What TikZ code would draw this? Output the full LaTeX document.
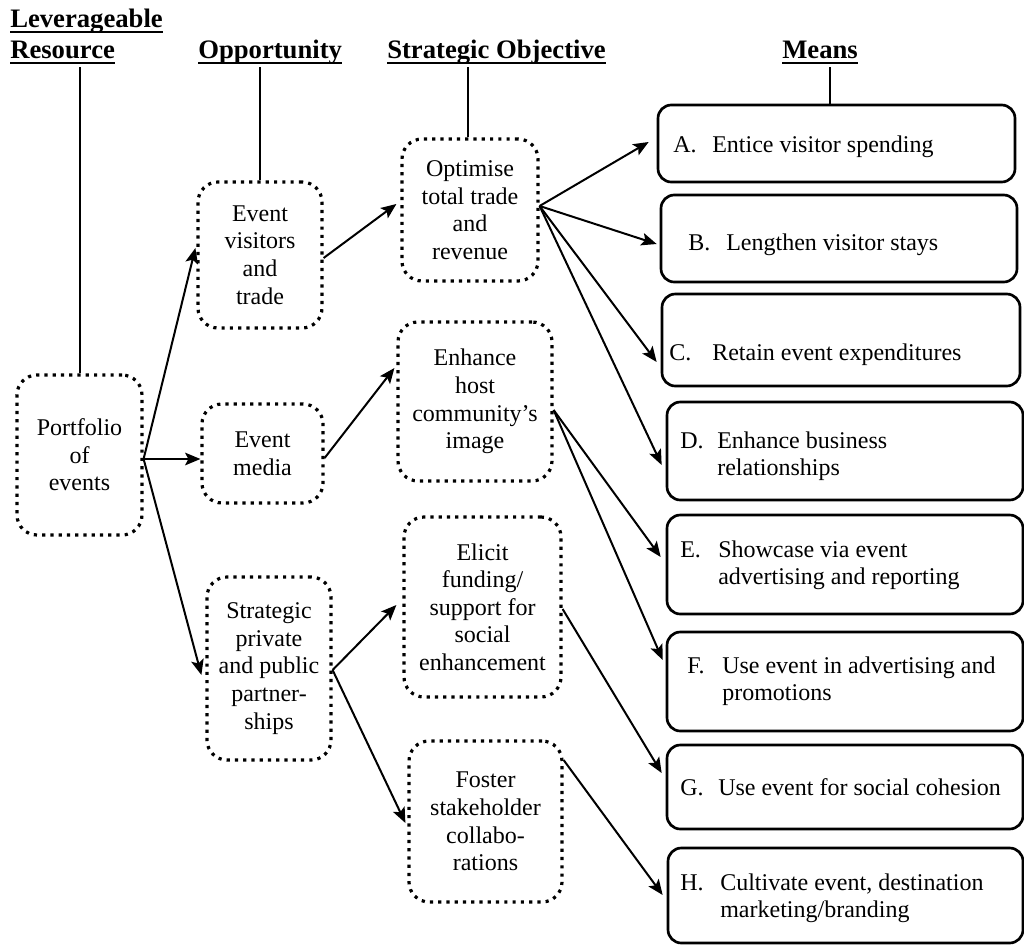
\documentclass[tikz,border=0pt]{standalone}
\usepackage{fontspec}
\setmainfont{Liberation Serif}
\usetikzlibrary{arrows.meta,calc}
\newcommand\hdrul[1]{\leavevmode\setbox0\hbox{#1}\rlap{\rule[-4.5pt]{\wd0}{1.5pt}}\box0}
\begin{document}
\begin{tikzpicture}[x=0.75pt,y=-0.75pt,
  bodyfont/.style={font=\fontsize{18}{20.7}\selectfont},
  dotbox/.style={draw, line width=2.4pt, dash pattern=on 2.4pt off 3.8pt,
    rounded corners=15pt, align=center, inner sep=0pt, bodyfont},
  sz/.style 2 args={minimum width=#1*0.75pt, minimum height=#2*0.75pt},
  meansbox/.style={draw, line width=2pt, rounded corners=10pt, inner sep=0pt},
  mtext/.style={anchor=base west, inner sep=0pt, bodyfont},
  hdr/.style={anchor=base west, inner sep=0pt, font=\fontsize{20}{23.25}\selectfont\bfseries},
  conn/.style={line width=1.5pt},
  arr/.style={conn, -{Stealth[length=11.5pt,width=9.5pt,inset=2.5pt]}}
]
\useasboundingbox (0,0) rectangle (1024,946);

% headers
\node[hdr] (hres) at (10,27) {\parbox[t]{200pt}{\hdrul{Leverageable}\\\hdrul{Resource}}};
\node[hdr] (hopp) at (198,58) {\hdrul{Opportunity}};
\node[hdr] (hobj) at (387,58) {\hdrul{Strategic Objective}};
\node[hdr] (hmea) at (782,58) {\hdrul{Means}};

% dotted boxes
\node[dotbox, sz={125}{160}] (port)  at (79.5,455)   {Portfolio\\of\\events};
\node[dotbox, sz={124}{146}] (evt)   at (260,255)    {Event\\visitors\\and\\trade};
\node[dotbox, sz={121}{99}]  (med)   at (262.5,453.5){Event\\media};
\node[dotbox, sz={124}{183}] (strat) at (269,668.5)  {Strategic\\private\\and public\\partner-\\ships};
\node[dotbox, sz={136}{142}] (opt)   at (470,210)    {Optimise\\total trade\\and\\revenue};
\node[dotbox, sz={154}{159}] (enh)   at (475,401.5)  {Enhance\\host\\community’s\\image};
\node[dotbox, sz={157}{180}] (eli)   at (482.5,607)  {Elicit\\funding/\\support for\\social\\enhancement};
\node[dotbox, sz={153}{161}] (fos)   at (485.5,821.5){Foster\\stakeholder\\collabo-\\rations};

% means boxes
\node[meansbox, sz={357}{77}] (A) at (836.5,143.5) {};
\node[meansbox, sz={356}{87}] (B) at (839,238.5) {};
\node[meansbox, sz={358}{92}] (C) at (841,340) {};
\node[meansbox, sz={356}{98}] (D) at (845,451) {};
\node[meansbox, sz={356}{99}] (E) at (845,564.5) {};
\node[meansbox, sz={356}{99}] (F) at (845,681.5) {};
\node[meansbox, sz={356}{84}] (G) at (845,787) {};
\node[meansbox, sz={355}{95}] (H) at (845.5,895.5) {};

\node[mtext] (At) at (673,152) {\makebox[29.25pt][l]{A.}Entice visitor spending};
\node[mtext] (Bt) at (688,250) {\makebox[28.5pt][l]{B.}Lengthen visitor stays};
\node[mtext] (Ct) at (669,360) {\makebox[32.25pt][l]{C.}Retain event expenditures};
\node[mtext] (Dt) at (680,448) {\makebox[27.75pt][l]{D.}\parbox[t]{260pt}{Enhance business\\relationships}};
\node[mtext] (Et) at (680,557) {\makebox[28.5pt][l]{E.}\parbox[t]{260pt}{Showcase via event\\advertising and reporting}};
\node[mtext] (Ft) at (687,673) {\makebox[26.25pt][l]{F.}\parbox[t]{260pt}{Use event in advertising and\\promotions}};
\node[mtext] (Gt) at (680,795) {\makebox[28.5pt][l]{G.}Use event for social cohesion};
\node[mtext] (Ht) at (680,890) {\makebox[30pt][l]{H.}\parbox[t]{260pt}{Cultivate event, destination\\marketing/branding}};

% header lines
\coordinate (l1) at (79.5,67);
\coordinate (l2) at (260,67);
\coordinate (l3) at (468,67);
\coordinate (l4) at (830,67);
\draw[conn] (l1) -- (port.north);
\draw[conn] (l2) -- (evt.north);
\draw[conn] (l3) -- (l3 |- opt.north);
\draw[conn] (l4) -- (l4 |- A.north);

% arrows
\draw[arr] (port.east |- 0,459) -- ($(evt.west |- 0,248)+(-1,0)$);
\draw[arr] (port.east |- 0,459) -- (med.west |- 0,459);
\draw[arr] (port.east |- 0,459) -- ($(strat.west |- 0,675)+(-4,0)$);
\draw[arr] (evt.east |- 0,258) -- ($(opt.west |- 0,204)+(-4,0)$);
\draw[arr] (med.east |- 0,458) -- ($(enh.west |- 0,368)+(-2,0)$);
\draw[arr] (strat.east |- 0,670) -- ($(eli.west |- 0,605)+(-6,0)$);
\draw[arr] (strat.east |- 0,670) -- ($(fos.west |- 0,823)+(-2,0)$);
\draw[arr] (opt.east |- 0,206) -- ($(A.west |- 0,142)+(-8,0)$);
\draw[arr] (opt.east |- 0,206) -- ($(B.west |- 0,244)+(-3,0)$);
\draw[arr] (opt.east |- 0,206) -- ($(C.west |- 0,362)+(-4,0)$);
\draw[arr] (opt.east |- 0,206) -- ($(D.west |- 0,465)+(-4,0)$);
\draw[arr] (enh.east |- 0,410) -- ($(E.west |- 0,557)+(-5,0)$);
\draw[arr] (enh.east |- 0,410) -- ($(F.west |- 0,660)+(-3,0)$);
\draw[arr] (eli.east |- 0,609) -- ($(G.west |- 0,773)+(-4,0)$);
\draw[arr] (fos.east |- 0,760) -- ($(H.west |- 0,895)+(-4,0)$);
\end{tikzpicture}
\end{document}
